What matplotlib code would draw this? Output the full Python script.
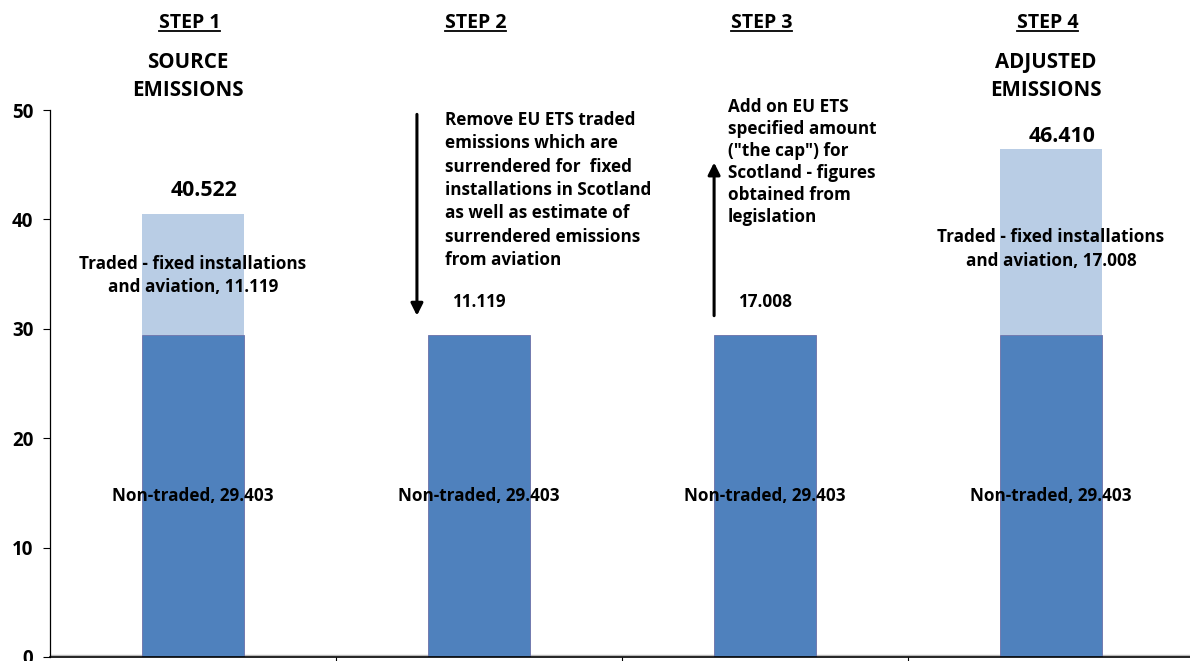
import matplotlib
matplotlib.use("Agg")
import matplotlib.pyplot as plt
from matplotlib.lines import Line2D

plt.rcParams['font.family'] = ['Open Sans', 'DejaVu Sans']
plt.rcParams['font.weight'] = 'bold'

steps = ["STEP 1", "STEP 2", "STEP 3", "STEP 4"]
subtitles = ["SOURCE\nEMISSIONS", "", "", "ADJUSTED\nEMISSIONS"]
non_traded = [29.403, 29.403, 29.403, 29.403]
traded = [11.119, 0.0, 0.0, 17.008]
totals = [40.522, None, None, 46.410]
step_values = [None, 11.119, 17.008, None]
yticks = [0, 10, 20, 30, 40, 50]
note2 = ("Remove EU ETS traded\nemissions which are\nsurrendered for  fixed\n"
         "installations in Scotland\nas well as estimate of\nsurrendered emissions\nfrom aviation")
note3 = ("Add on EU ETS\nspecified amount\n(\"the cap\") for\nScotland - figures\n"
         "obtained from\nlegislation")

dark = '#4F81BD'
light = '#B9CDE5'

fig = plt.figure(figsize=(11.9, 6.61), dpi=100)
ax = fig.add_axes([50/1190, 4/661, 1144/1190, (657-110)/661])
x = list(range(len(steps)))
w = 0.36
ax.bar(x, non_traded, width=w, color=dark, edgecolor='#6A6FA8', linewidth=0.6)
ax.bar(x, traded, width=w, bottom=non_traded, color=light, edgecolor='none')

ax.set_xlim(-0.5, 3.5)
ax.set_ylim(0, 50)
ax.set_yticks(yticks)
ax.set_yticklabels([str(t) for t in yticks], fontsize=13.5, fontweight='bold')
ax.set_xticks([0.5, 1.5, 2.5])
ax.set_xticklabels([])
ax.tick_params(axis='x', direction='out', length=5, width=0.8)
ax.tick_params(axis='y', direction='out', length=5, width=0.8, pad=7)
for s in ['top', 'right']:
    ax.spines[s].set_visible(False)
ax.spines['left'].set_linewidth(0.9)
ax.spines['bottom'].set_linewidth(1.2)
ax.axhline(0.2, color='#BBBBBB', linewidth=1.0, zorder=0.5)

fs = 12.3
ls = 1.38
for i in x:
    ax.text(i, non_traded[i] / 2, f"Non-traded, {non_traded[i]:.3f}", ha='center', va='center',
            fontsize=fs, fontweight='bold')
    if traded[i] > 0:
        y_lab = 34.9 if i == 0 else 37.3
        ax.text(i, y_lab, f"Traded - fixed installations\nand aviation, {traded[i]:.3f}",
                ha='center', va='center', fontsize=fs, fontweight='bold', linespacing=ls)
    if totals[i] is not None:
        off = 2.08 if i == 0 else 1.2
        ax.text(i + 0.04, totals[i] + off, f"{totals[i]:.3f}", ha='center', va='center',
                fontsize=15.3, fontweight='bold')

# step values
ax.text(1 - 0.095, 32.45, f"{step_values[1]:.3f}", ha='left', va='center', fontsize=fs, fontweight='bold')
ax.text(2 - 0.095, 32.45, f"{step_values[2]:.3f}", ha='left', va='center', fontsize=fs, fontweight='bold')

# notes
ax.text(1 - 0.12, 49.9, note2, ha='left', va='top', fontsize=fs, fontweight='bold', linespacing=ls)
ax.text(2 - 0.13, 51.1, note3, ha='left', va='top', fontsize=fs, fontweight='bold', linespacing=1.29)

# arrows
ax.annotate('', xy=(1 - 0.217, 31.2), xytext=(1 - 0.217, 49.6),
            arrowprops=dict(arrowstyle='-|>', color='black', lw=2.2, mutation_scale=18,
                            shrinkA=0, shrinkB=0), annotation_clip=False)
ax.annotate('', xy=(2 - 0.178, 45.2), xytext=(2 - 0.178, 31.2),
            arrowprops=dict(arrowstyle='-|>', color='black', lw=2.2, mutation_scale=18,
                            shrinkA=0, shrinkB=0), annotation_clip=False)

# headers
fig.canvas.draw()
renderer = fig.canvas.get_renderer()
for i in x:
    xf = ax.transData.transform((i, 0))[0] / 1190
    t = fig.text(xf - 0.003, 1 - 23/661, steps[i], ha='center', va='center', fontsize=14, fontweight='bold')
    bb = t.get_window_extent(renderer)
    fig.add_artist(Line2D([bb.x0/1190, bb.x1/1190], [(bb.y0 + 2)/661, (bb.y0 + 2)/661],
                          color='black', linewidth=1.3))
    if subtitles[i]:
        fig.text(xf - 0.004, 1 - 76.5/661, subtitles[i], ha='center', va='center', fontsize=14.8,
                 fontweight='bold', linespacing=1.4)

fig.savefig('out.png', dpi=100)
